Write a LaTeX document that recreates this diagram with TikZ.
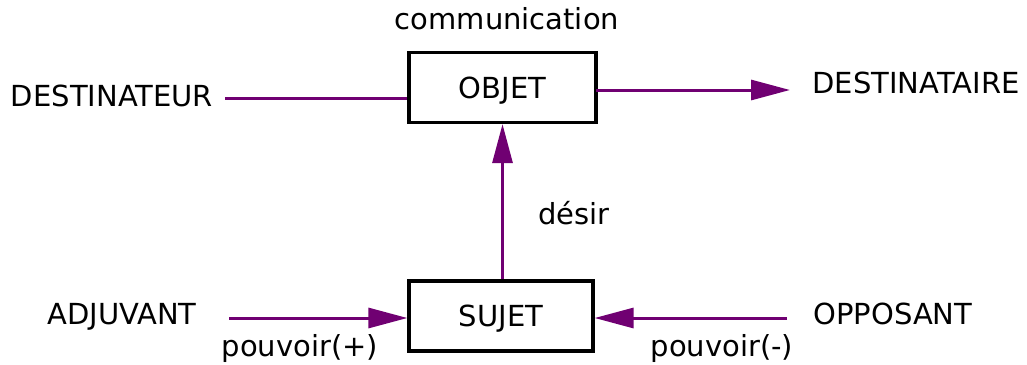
\documentclass[tikz,border=0pt]{standalone}
\usepackage{fontspec}
\setmainfont{DejaVu Sans}
\usetikzlibrary{arrows.meta}
\definecolor{vio}{RGB}{112,0,114}
\begin{document}
\begin{tikzpicture}[x=1pt,y=-1pt,
  every node/.style={font=\fontsize{29}{33}\selectfont, inner sep=0pt},
  actant/.style={draw=black, line width=3.2pt, minimum width=187pt, minimum height=70pt,
    text height=21pt, text depth=0pt},
  label/.style={anchor=base},
  link/.style={draw=vio, line width=3pt},
  flow/.style={link, -{Triangle[length=39pt,width=20pt]}}]
  \useasboundingbox (0,0) rectangle (1027,364);
  % the two central actants
  \node[actant] (obj) at (502.5,87.5) {OBJET};
  \node[actant, minimum width=184pt] (suj) at (501,316) {SUJET};
  % surrounding labels
  \node[label] (comm) at (507,29) {communication};
  \node[label] (dtr) at (112,106) {DESTINATEUR};
  \node[label] (dte) at (916,93) {DESTINATAIRE};
  \node[label] (des) at (574,224) {désir};
  \node[label] (adj) at (122,324) {ADJUVANT};
  \node[label] (opp) at (893,324) {OPPOSANT};
  \node[label] (pp) at (300,356) {pouvoir(+)};
  \node[label] (pm) at (722,356) {pouvoir(-)};
  % free ends of the connectors
  \coordinate (dtrend) at (225,98);
  \coordinate (dtestart) at (596,90);
  \coordinate (dteend) at (790,90);
  \coordinate (adjend) at (229,318);
  \coordinate (oppend) at (787,318);
  % connectors
  \draw[link] (dtrend) -- (dtrend -| obj.west);
  \draw[flow] (dtestart) -- (dteend);
  \draw[flow] (obj.south |- suj.north) -- (obj.south);
  \draw[flow] (adjend) -- (adjend -| suj.west);
  \draw[flow] (oppend) -- (oppend -| suj.east);
\end{tikzpicture}
\end{document}
